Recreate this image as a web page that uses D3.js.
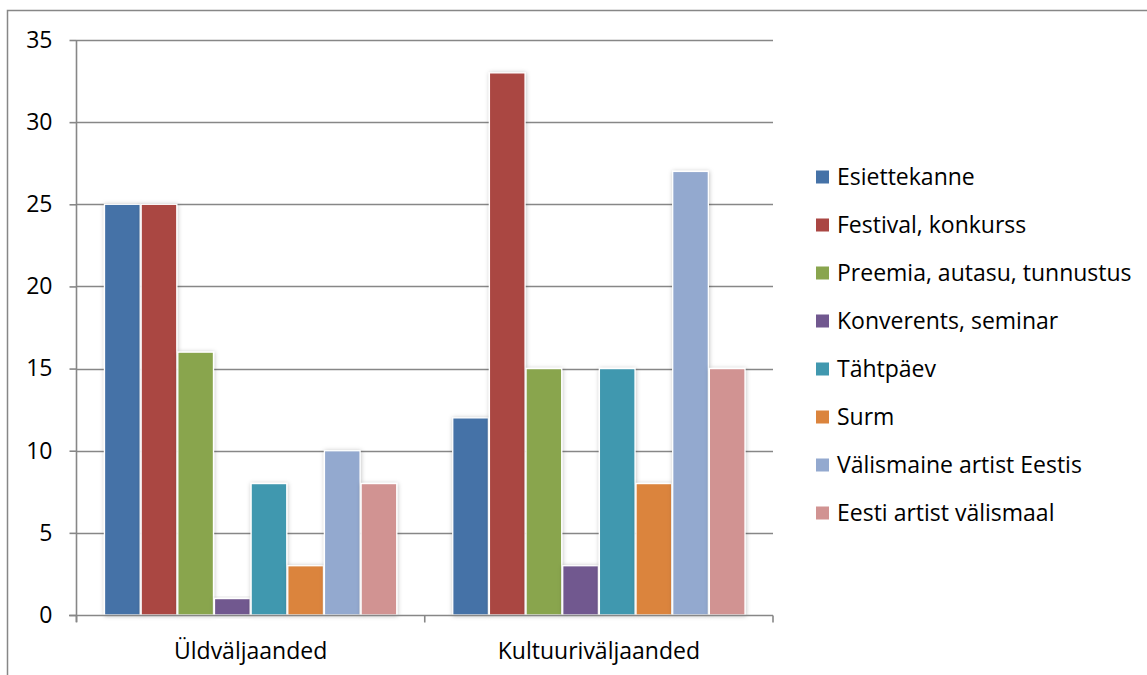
<!DOCTYPE html>
<html><head><meta charset="utf-8">
<script src="https://cdn.jsdelivr.net/npm/d3@7"></script>
<style>html,body{margin:0;padding:0;background:#fff;}svg{display:block;font-family:"Open Sans",sans-serif;}</style>
</head><body><svg id="c" width="1147" height="675"></svg>
<script>
const categories = ["Üldväljaanded", "Kultuuriväljaanded"];
const seriesNames = ["Esiettekanne", "Festival, konkurss", "Preemia, autasu, tunnustus", "Konverents, seminar", "Tähtpäev", "Surm", "Välismaine artist Eestis", "Eesti artist välismaal"];
const valuesUld = [25, 25, 16, 1, 8, 3, 10, 8];
const valuesKultuur = [12, 33, 15, 3, 15, 8, 27, 15];
const colors = ["#4572A7", "#AA4643", "#89A54E", "#71588F", "#4198AF", "#DB843D", "#93A9CF", "#D19392"];
const yTicks = [0, 5, 10, 15, 20, 25, 30, 35];

const values = [valuesUld, valuesKultuur];
const svg = d3.select("#c");
const gridColor = "#878787";
const fontSize = 23;

const defs = svg.append("defs");
const f = defs.append("filter").attr("id","sh").attr("x","-30%").attr("y","-10%").attr("width","160%").attr("height","130%");
f.append("feDropShadow").attr("dx",0.5).attr("dy",0.5).attr("stdDeviation",2).attr("flood-color","#000").attr("flood-opacity",0.25);

// frame
svg.append("path").attr("d","M7.5,675 V10.5 H1147").attr("fill","none").attr("stroke",gridColor).attr("stroke-width",1.5);

const y = d3.scaleLinear().domain([0,35]).range([615,40]);
const x0 = d3.scaleBand().domain(categories).range([76.5,773]).padding(0);
const x1 = d3.scaleBand().domain(seriesNames).range([0,x0.bandwidth()]).paddingInner(0).paddingOuter(0.75);

// gridlines
svg.append("g").selectAll("line").data(yTicks.filter(d=>d>0)).join("line")
  .attr("x1",76.5).attr("x2",773).attr("y1",d=>Math.round(y(d))+0.5).attr("y2",d=>Math.round(y(d))+0.5)
  .attr("stroke",gridColor).attr("stroke-width",1.6);

// y axis
const ya = svg.append("g").attr("transform","translate(76.5,0)")
  .call(d3.axisLeft(y).tickValues(yTicks).tickSize(7).tickPadding(17).tickFormat(d3.format("d")));
ya.select(".domain").attr("d","M0,40V622").attr("stroke",gridColor).attr("stroke-width",1.6);
ya.selectAll(".tick line").attr("stroke",gridColor).attr("stroke-width",1.6);
ya.selectAll(".tick text").attr("font-size",fontSize).attr("fill","#000").attr("font-family","Open Sans");

// bars
const groups = svg.append("g").selectAll("g").data(categories).join("g")
  .attr("transform",d=>`translate(${x0(d)},0)`);
groups.selectAll("rect").data((c,i)=>seriesNames.map((s,j)=>({s,j,v:values[i][j]}))).join("rect")
  .attr("x",d=>x1(d.s)+0.5).attr("width",x1.bandwidth()-1)
  .attr("y",d=>y(d.v)).attr("height",d=>y(0)-y(d.v))
  .attr("fill",d=>colors[d.j]).attr("stroke","#fff").attr("stroke-width",1.3)
  .attr("filter","url(#sh)");

// x axis
const xa = svg.append("g").attr("transform","translate(0,615.5)");
xa.append("line").attr("x1",69).attr("x2",773).attr("stroke",gridColor).attr("stroke-width",1.6);
const xt = [76.5, x0(categories[1]), 773];
xa.selectAll("line.t").data(xt).join("line").attr("class","t")
  .attr("x1",d=>d).attr("x2",d=>d).attr("y1",0).attr("y2",7).attr("stroke",gridColor).attr("stroke-width",1.6);
xa.selectAll("text").data(categories).join("text")
  .attr("x",d=>x0(d)+x0.bandwidth()/2).attr("y",43).attr("text-anchor","middle")
  .attr("font-size",fontSize).attr("fill","#000").text(d=>d);

// legend
const lg = svg.append("g");
const ly = d3.scalePoint().domain(seriesNames).range([177,513]);
const li = lg.selectAll("g").data(seriesNames).join("g").attr("transform",d=>`translate(816,${ly(d)})`);
li.append("rect").attr("x",0).attr("y",-6.5).attr("width",13).attr("height",13).attr("fill",(d,i)=>colors[i]);
li.append("text").attr("x",21).attr("y",0).attr("dy","0.35em").attr("font-size",fontSize).attr("fill","#000").text(d=>d);
</script></body></html>
